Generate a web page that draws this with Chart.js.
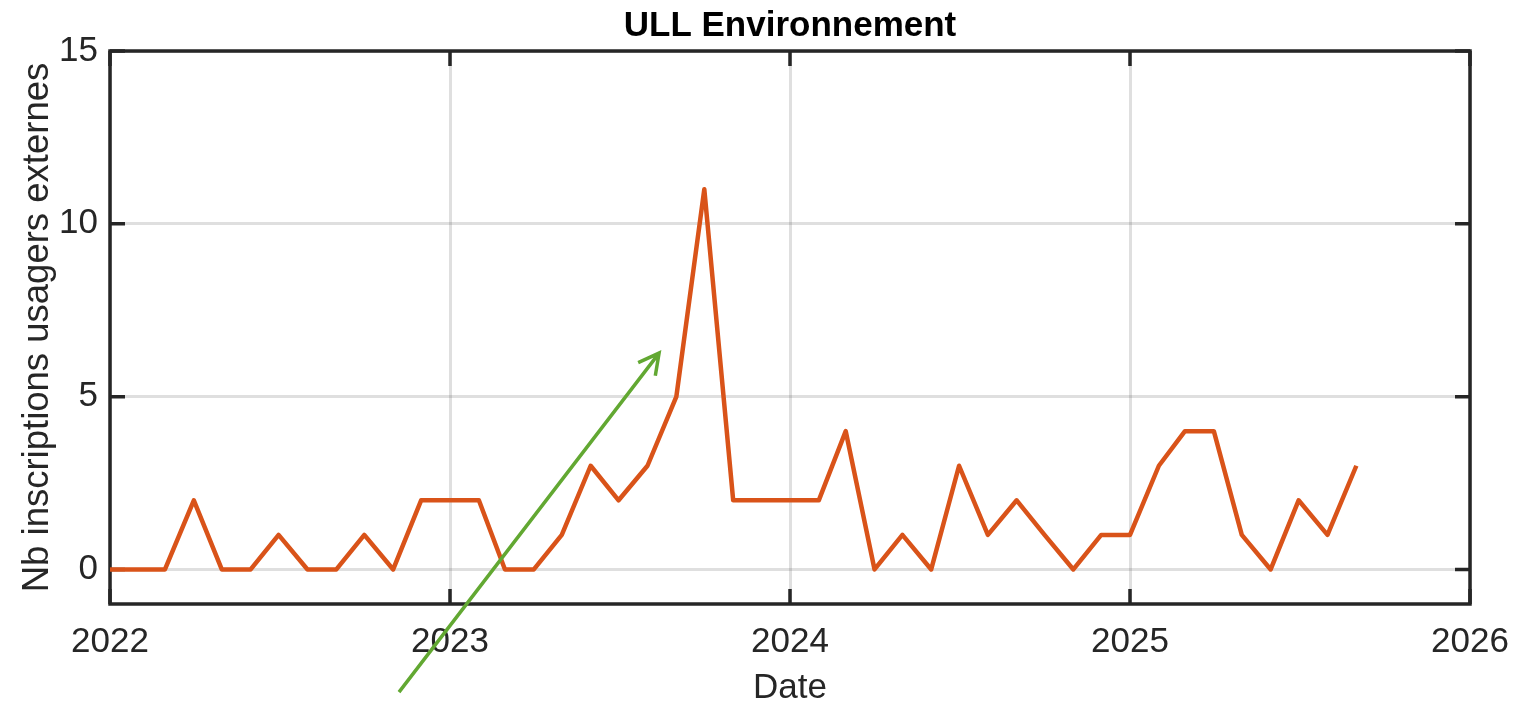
<!DOCTYPE html>
<html>
<head>
<meta charset="utf-8">
<title>ULL Environnement</title>
<script src="https://cdn.jsdelivr.net/npm/chart.js@4"></script>
<style>
	html, body { margin: 0; padding: 0; background: #ffffff; }
	#wrap { position: relative; width: 1516px; height: 704px; }
</style>
</head>
<body>
<div id="wrap"><canvas id="ullChart"></canvas></div>
<script>
// monthly counts, Jan 2022 .. Sep 2025
const months = [
	'2022-01', '2022-02', '2022-03', '2022-04', '2022-05', '2022-06', '2022-07', '2022-08', '2022-09', '2022-10', '2022-11', '2022-12',
	'2023-01', '2023-02', '2023-03', '2023-04', '2023-05', '2023-06', '2023-07', '2023-08', '2023-09', '2023-10', '2023-11', '2023-12',
	'2024-01', '2024-02', '2024-03', '2024-04', '2024-05', '2024-06', '2024-07', '2024-08', '2024-09', '2024-10', '2024-11', '2024-12',
	'2025-01', '2025-02', '2025-03', '2025-04', '2025-05', '2025-06', '2025-07', '2025-08', '2025-09'
];
const inscriptions = [
	0, 0, 0, 2, 0, 0, 1, 0, 0, 1, 0, 2,
	2, 2, 0, 0, 1, 3, 2, 3, 5, 11, 2, 2,
	2, 2, 4, 0, 1, 0, 3, 1, 2, 1, 0, 1,
	1, 3, 4, 4, 1, 0, 2, 1, 3
];
const xTicks = [2022, 2023, 2024, 2025, 2026];
const yTicks = [0, 5, 10, 15];
const yRange = [-1, 15];

// green annotation arrow, in data units (year, count)
const arrowFrom = [2022.85, -3.55];
const arrowTo = [2023.615, 6.26];

const axisColor = '#262626';
const lineColor = '#D95319';
const arrowColor = '#62A832';
const fontFamily = '"Liberation Sans", Arial, Helvetica, sans-serif';

// 'YYYY-MM' -> fractional year, like a datetime axis would place it
function toYear(ym)
{
	let parts = ym.split('-');
	let y = parseInt(parts[0]);
	let m = parseInt(parts[1]) - 1;
	let start = Date.UTC(y, 0, 1);
	let end = Date.UTC(y + 1, 0, 1);
	return y + (Date.UTC(y, m, 1) - start) / (end - start);
}

const points = months.map((m, i) => ({ x: toYear(m), y: inscriptions[i] }));

// box + inward ticks on all four sides (under the data), arrow on top
const matlabAxes = {
	id: 'matlabAxes',
	beforeDatasetsDraw: function(chart)
	{
		const ctx = chart.ctx;
		const area = chart.chartArea;
		const sx = chart.scales.x;
		const sy = chart.scales.y;
		const tickLen = 15;

		ctx.save();
		ctx.strokeStyle = axisColor;
		ctx.lineWidth = 3.5;
		ctx.beginPath();
		sx.ticks.forEach((t) => {
			let px = sx.getPixelForValue(t.value);
			ctx.moveTo(px, area.bottom);
			ctx.lineTo(px, area.bottom - tickLen);
			ctx.moveTo(px, area.top);
			ctx.lineTo(px, area.top + tickLen);
		});
		sy.ticks.forEach((t) => {
			let py = sy.getPixelForValue(t.value);
			ctx.moveTo(area.left, py);
			ctx.lineTo(area.left + tickLen, py);
			ctx.moveTo(area.right, py);
			ctx.lineTo(area.right - tickLen, py);
		});
		ctx.stroke();

		ctx.strokeRect(area.left, area.top, area.right - area.left, area.bottom - area.top);
		ctx.restore();
	},
	afterDraw: function(chart)
	{
		const ctx = chart.ctx;
		const sx = chart.scales.x;
		const sy = chart.scales.y;

		let x0 = sx.getPixelForValue(arrowFrom[0]);
		let y0 = sy.getPixelForValue(arrowFrom[1]);
		let x1 = sx.getPixelForValue(arrowTo[0]);
		let y1 = sy.getPixelForValue(arrowTo[1]);
		let ang = Math.atan2(y1 - y0, x1 - x0);
		let head = 23;
		let spread = 28 * Math.PI / 180;

		ctx.save();
		ctx.strokeStyle = arrowColor;
		ctx.lineWidth = 3.5;
		ctx.lineCap = 'butt';
		ctx.lineJoin = 'miter';
		ctx.beginPath();
		ctx.moveTo(x0, y0);
		ctx.lineTo(x1, y1);
		ctx.moveTo(x1 - head * Math.cos(ang - spread), y1 - head * Math.sin(ang - spread));
		ctx.lineTo(x1, y1);
		ctx.lineTo(x1 - head * Math.cos(ang + spread), y1 - head * Math.sin(ang + spread));
		ctx.stroke();
		ctx.restore();
	}
};

new Chart('ullChart', {
	type: 'line',
	data: {
		datasets: [{
			label: 'ULL Environnement',
			data: points,
			borderColor: lineColor,
			borderWidth: 4.5,
			borderJoinStyle: 'round',
			pointRadius: 0,
			tension: 0,
			fill: false
		}]
	},
	plugins: [matlabAxes],
	options: {
		responsive: true,
		maintainAspectRatio: false,
		animation: false,
		events: [],
		layout: {
			padding: { left: 0, right: 46, top: 0, bottom: 0 }
		},
		plugins: {
			legend: { display: false },
			tooltip: { enabled: false },
			title: {
				display: true,
				text: 'ULL Environnement',
				fullSize: false,
				color: '#000000',
				font: { family: fontFamily, size: 35, weight: 'bold', lineHeight: 1 },
				padding: { top: 9, bottom: 7 }
			}
		},
		scales: {
			x: {
				type: 'linear',
				min: xTicks[0],
				max: xTicks[xTicks.length - 1],
				afterBuildTicks: (scale) => {
					scale.ticks = xTicks.map((v) => ({ value: v }));
				},
				afterFit: (scale) => {
					scale.height = 100;
					scale.paddingLeft = 0;
					scale.paddingRight = 0;
				},
				border: { display: false },
				grid: {
					color: 'rgba(38,38,38,0.15)',
					lineWidth: 3,
					drawTicks: false
				},
				ticks: {
					color: axisColor,
					padding: 21,
					maxRotation: 0,
					font: { family: fontFamily, size: 35, lineHeight: 1 },
					callback: (v) => String(v)
				},
				title: {
					display: true,
					text: 'Date',
					color: axisColor,
					font: { family: fontFamily, size: 35, lineHeight: 1 },
					padding: { top: 0, bottom: -1.5 }
				}
			},
			y: {
				min: yRange[0],
				max: yRange[1],
				afterBuildTicks: (scale) => {
					scale.ticks = yTicks.map((v) => ({ value: v }));
				},
				afterFit: (scale) => {
					scale.width = 110;
					scale.paddingTop = 0;
					scale.paddingBottom = 0;
				},
				border: { display: false },
				grid: {
					color: 'rgba(38,38,38,0.15)',
					lineWidth: 3,
					drawTicks: false
				},
				ticks: {
					color: axisColor,
					padding: 12,
					font: { family: fontFamily, size: 35, lineHeight: 1 },
					callback: (v) => String(v)
				},
				title: {
					display: true,
					text: 'Nb inscriptions usagers externes',
					color: axisColor,
					font: { family: fontFamily, size: 36.5, lineHeight: 1 },
					padding: { top: 19.5, bottom: 0 }
				}
			}
		}
	}
});
</script>
</body>
</html>
